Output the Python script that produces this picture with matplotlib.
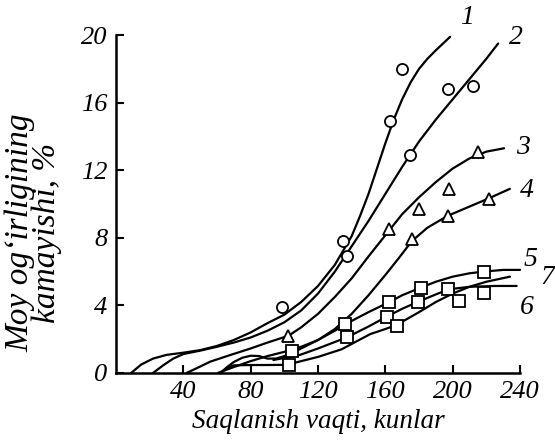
import matplotlib
matplotlib.use("Agg")
import matplotlib.pyplot as plt

# ---- data ----
c1_x = [9, 15, 22, 30, 40, 50, 60, 70, 80, 90, 100, 110, 120, 130, 140, 145, 150, 155, 160, 165, 170, 175, 180, 185, 190, 198.5]
c1_y = [0, 0.5, 0.85, 1.07, 1.2, 1.35, 1.6, 1.95, 2.4, 2.95, 3.45, 4.2, 5.15, 6.4, 8.1, 9.3, 10.6, 12.1, 13.6, 15.0, 16.2, 17.2, 18.0, 18.6, 19.1, 19.9]

c2_x = [22, 28, 34, 40, 50, 60, 70, 80, 90, 100, 110, 120, 130, 140, 150, 160, 170, 180, 190, 200, 210, 220, 227]
c2_y = [0, 0.45, 0.85, 1.12, 1.32, 1.55, 1.8, 2.1, 2.5, 3.0, 3.7, 4.7, 6.0, 7.5, 9.0, 10.6, 12.2, 13.7, 15.0, 16.2, 17.4, 18.6, 19.5]

c3_x = [42, 50, 56, 66, 80, 90, 102.4, 110, 120, 130, 140, 150, 162.8, 170, 180, 190, 200, 210, 220, 230.5]
c3_y = [0, 0.38, 0.67, 1.0, 1.45, 1.8, 2.2, 2.7, 3.5, 4.5, 5.6, 6.9, 8.5, 9.4, 10.4, 11.3, 12.1, 12.7, 13.1, 13.3]

c4_x = [60.5, 70, 80, 90, 100, 110, 120, 130, 140, 150, 160, 168, 175.7, 185, 197, 210, 221.8, 234]
c4_y = [0, 0.35, 0.7, 1.0, 1.25, 1.55, 1.95, 2.6, 3.5, 4.6, 5.8, 6.8, 7.8, 8.6, 9.3, 9.85, 10.35, 10.9]

c5_x = [62, 66, 70, 75, 80, 85, 90, 95, 100, 105, 110, 120, 130, 136.5, 150, 162.4, 170, 181, 190, 200, 210, 218.5, 230, 240]
c5_y = [0, 0.35, 0.65, 0.9, 1.02, 1.0, 0.85, 0.85, 1.0, 1.2, 1.45, 1.95, 2.5, 2.9, 3.6, 4.2, 4.6, 5.05, 5.4, 5.7, 5.9, 6.0, 6.1, 6.1]

c7_x = [93.5, 98, 104, 109.3, 120, 137, 150, 160.8, 170, 179.6, 190, 197.5, 210, 225, 238]
c7_y = [0.77, 0.85, 0.95, 1.07, 1.45, 2.1, 2.75, 3.33, 3.8, 4.22, 4.65, 4.95, 5.1, 5.15, 5.15]

c6_x = [62, 66, 70, 80, 90, 100, 104, 110, 120, 134, 151, 160, 166.8, 180, 190, 200, 210, 220, 234]
c6_y = [0, 0.3, 0.45, 0.47, 0.47, 0.48, 0.55, 0.7, 0.95, 1.4, 2.3, 2.6, 2.85, 3.6, 4.2, 4.7, 5.1, 5.4, 5.7]

circ_x = [98.5, 135, 137, 162.8, 170, 174.7, 197.5, 212.3]
circ_y = [3.9, 7.8, 6.9, 14.9, 18.0, 12.9, 16.8, 17.0]
tri_x = [102.4, 162.4, 175.7, 180.2, 198, 197, 215, 221.8]
tri_y = [2.2, 8.5, 7.9, 9.7, 10.9, 9.3, 13.1, 10.3]
sq_x = [104.4, 102.8, 136, 137, 162.4, 160.8, 166.8, 181, 179.6, 197.5, 204, 218.7, 218.7]
sq_y = [1.3, 0.5, 2.9, 2.1, 4.2, 3.3, 2.8, 5.05, 4.2, 4.95, 4.25, 6.0, 4.75]

x_ticks = [40, 80, 120, 160, 200, 240]
y_ticks = [0, 4, 8, 12, 16, 20]
curve_labels = ["1", "2", "3", "4", "5", "7", "6"]

# ---- figure ----
plt.rcParams['font.family'] = ['Liberation Serif', 'DejaVu Serif']
fs = 19

fig = plt.figure(figsize=(5.55, 4.44), dpi=100)
ax = fig.add_axes([0.209, 0.160, 0.728, 0.761])
ax.set_xlim(0, 240)
ax.set_ylim(0, 20)

lw = 1.6
for xs, ys in [(c1_x, c1_y), (c2_x, c2_y), (c3_x, c3_y), (c4_x, c4_y),
               (c5_x, c5_y), (c7_x, c7_y), (c6_x, c6_y)]:
    ax.plot(xs, ys, color='black', lw=lw, clip_on=False, solid_capstyle='round',
            solid_joinstyle='round')

ms = 8
ax.plot(circ_x, circ_y, 'o', ms=ms, mfc='white', mec='black', mew=1.3, clip_on=False)
ax.plot(tri_x, tri_y, '^', ms=ms, mfc='white', mec='black', mew=1.3, clip_on=False)
ax.plot(sq_x, sq_y, 's', ms=ms, mfc='white', mec='black', mew=1.3, clip_on=False)

for s in ['top', 'right']:
    ax.spines[s].set_visible(False)
for s in ['left', 'bottom']:
    ax.spines[s].set_linewidth(1.8)

ax.set_xticks(x_ticks)
ax.set_yticks(y_ticks)
ax.set_xticklabels([str(t) for t in x_ticks], fontsize=fs, style='italic')
ax.set_yticklabels([str(t) for t in y_ticks], fontsize=fs, style='italic')
ax.tick_params(direction='in', length=6, width=1.5, pad=6)

ax.set_xlabel("Saqlanish vaqti, kunlar", fontsize=fs + 0.5, style='italic', labelpad=4)
fig.text(0.061, 0.476, "Moy og\u2018irligining\nkamayishi, %", rotation=90, fontsize=24,
         style='italic', ha='center', va='center', multialignment='center',
         linespacing=0.83)

# curve number labels (positions in figure fraction)
lab_pos = [(466.7, 18), (516, 37), (523, 147), (527, 190), (530, 259), (547, 277), (527, 307)]
for t, (px, py) in zip(curve_labels, lab_pos):
    fig.text(px / 555, 1 - py / 444, t, fontsize=fs + 1, style='italic', ha='center', va='center')

fig.savefig("out.png", dpi=100)
